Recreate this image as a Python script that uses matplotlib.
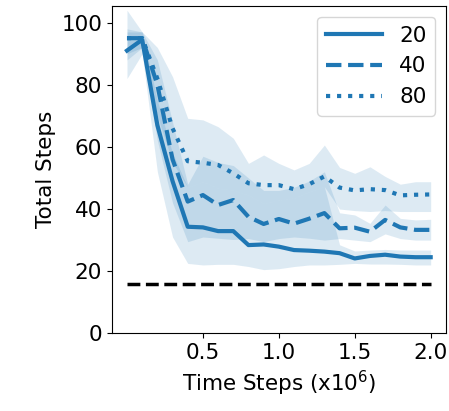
import numpy as np
import matplotlib
matplotlib.use('Agg')
import matplotlib.pyplot as plt

# time steps (x1e6)
steps = [0.0, 0.1, 0.2, 0.3, 0.4, 0.5, 0.6, 0.7, 0.8, 0.9, 1.0,
         1.1, 1.2, 1.3, 1.4, 1.5, 1.6, 1.7, 1.8, 1.9, 2.0]

# mean total steps per setting
mean_20 = [91.0, 94.5, 67.0, 49.0, 34.3, 34.1, 32.9, 32.9, 28.4, 28.6, 27.9,
           26.8, 26.6, 26.3, 25.8, 24.1, 24.9, 25.3, 24.7, 24.5, 24.5]
mean_40 = [95.0, 95.0, 80.0, 56.0, 42.4, 44.5, 41.3, 42.9, 37.5, 35.2, 36.8,
           35.3, 36.9, 38.7, 33.8, 34.0, 32.7, 36.5, 34.1, 33.3, 33.3]
mean_80 = [95.0, 95.0, 82.0, 66.0, 55.4, 54.9, 54.2, 51.5, 48.3, 47.7, 47.7,
           46.4, 48.0, 50.5, 46.9, 46.0, 46.4, 46.1, 44.4, 44.6, 44.7]

# confidence bands
low_20 = [82.0, 90.0, 52.0, 31.0, 22.5, 22.0, 22.2, 22.2, 21.5, 20.5, 20.8,
          21.5, 22.0, 22.0, 22.2, 22.5, 22.3, 22.3, 22.2, 22.0, 22.0]
high_20 = [97.0, 97.0, 75.0, 58.0, 47.0, 48.8, 46.7, 46.1, 44.5, 41.8, 42.9,
           43.5, 45.6, 47.2, 28.5, 26.5, 26.8, 27.0, 26.8, 26.8, 26.8]
low_40 = [90.0, 92.0, 62.0, 42.0, 29.5, 31.0, 30.6, 30.2, 30.5, 29.5, 30.5,
          31.0, 30.6, 30.0, 30.5, 30.0, 29.5, 32.0, 30.5, 30.0, 30.0]
high_40 = [98.0, 97.0, 88.0, 68.0, 48.0, 57.0, 55.0, 54.0, 50.0, 46.0, 46.0,
           47.0, 49.0, 52.0, 38.8, 38.1, 35.4, 41.3, 37.0, 36.5, 36.7]
low_80 = [88.0, 92.0, 70.0, 55.0, 47.0, 48.8, 46.7, 46.1, 44.5, 41.8, 42.9,
          43.5, 45.6, 47.2, 40.0, 39.5, 39.2, 39.5, 39.2, 39.2, 39.2]
high_80 = [104.0, 97.0, 92.0, 82.6, 69.2, 68.7, 66.5, 62.8, 54.7, 57.4, 54.7,
           52.6, 54.7, 60.6, 53.4, 51.5, 53.6, 50.5, 48.0, 48.8, 48.8]

optimal = 16.0

labels = ['20', '40', '80']
styles = ['-', '--', ':']

plt.rcParams['font.family'] = 'DejaVu Sans'
plt.rcParams['font.size'] = 15.5

fig = plt.figure(figsize=(4.49, 4.11), dpi=100)
ax = fig.add_axes([0.249, 0.189, 0.744, 0.796])

means = [mean_20, mean_40, mean_80]
lows = [low_20, low_40, low_80]
highs = [high_20, high_40, high_80]
for m, lo, hi, ls, lab in zip(means, lows, highs, styles, labels):
    ax.fill_between(steps, lo, hi, color='#1f77b4', alpha=0.15, linewidth=0)
    ax.plot(steps, m, ls, color='#1f77b4', lw=3.0, label=lab)

ax.plot([steps[0], steps[-1]], [optimal, optimal], '--', color='black', lw=2.5)

ax.set_xlim(-0.1, 2.1)
ax.set_ylim(0, 105.3)
ax.set_xticks([0.5, 1.0, 1.5, 2.0])
ax.set_yticks([0, 20, 40, 60, 80, 100])
ax.set_xlabel('Time Steps (x10$^6$)')
ax.set_ylabel('Total Steps')
ax.legend(loc='upper right', handlelength=2.6)

fig.savefig('out.png', dpi=100)
